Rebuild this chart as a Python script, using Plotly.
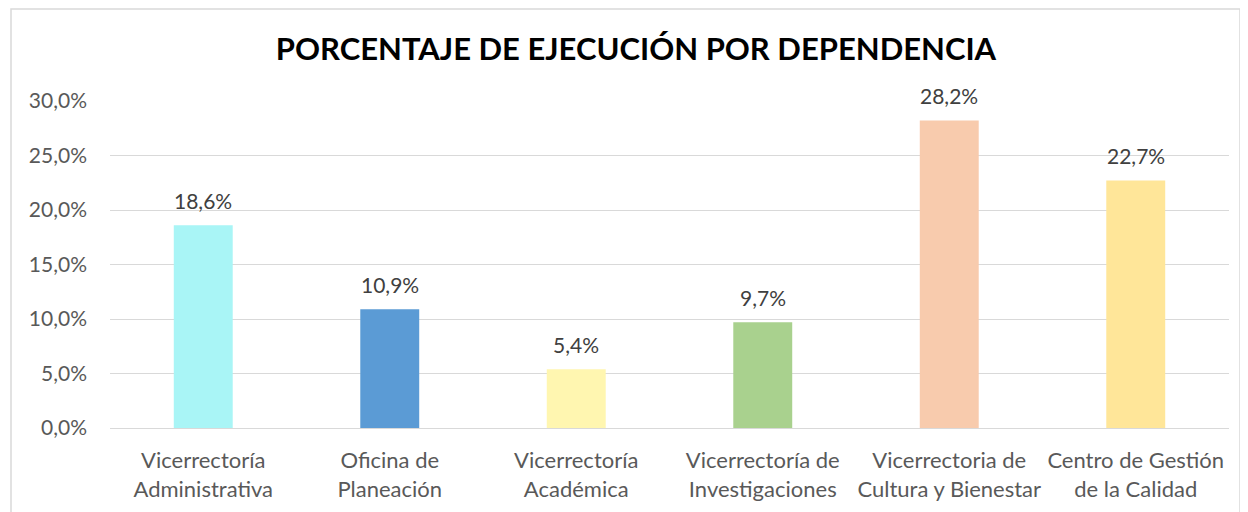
import plotly.graph_objects as go

categories = [
    "Vicerrectoría<br>Administrativa",
    "Oficina de<br>Planeación",
    "Vicerrectoría<br>Académica",
    "Vicerrectoría de<br>Investigaciones",
    "Vicerrectoria de<br>Cultura y Bienestar",
    "Centro de Gestión<br>de la Calidad",
]
values = [0.186, 0.109, 0.054, 0.097, 0.282, 0.227]
value_labels = ["18,6%", "10,9%", "5,4%", "9,7%", "28,2%", "22,7%"]
colors = ["#A9F5F6", "#5B9BD5", "#FFF6B0", "#A9D18E", "#F8CBAD", "#FFE699"]
tick_vals = [0, 0.05, 0.10, 0.15, 0.20, 0.25, 0.30]

FONT = "Lato"
# page has an 8px body margin; figure sized to fit in the window
OFF = 8
W, H = 1248 - OFF, 512 - OFF
L, T = 110 - OFF, 101 - OFF
R = W - (1229 - OFF)
B = H - (428 - OFF)
pw = W - L - R
ph = H - T - B


def px_x(x):
    return (x - OFF - L) / pw


def px_y(y):
    return (ph - (y - OFF - T)) / ph


fig = go.Figure(
    go.Bar(
        x=categories,
        y=values,
        marker=dict(color=colors, line=dict(width=0)),
        width=0.316,
        hoverinfo="x+y",
    )
)

for c, v, lab in zip(categories, values, value_labels):
    fig.add_annotation(
        x=c,
        y=v,
        text=lab,
        showarrow=False,
        yanchor="middle",
        yshift=25,
        font=dict(family=FONT, size=21, color="#404040"),
    )

fig.update_layout(
    width=W,
    height=H,
    margin=dict(l=L, r=R, t=T, b=B, autoexpand=False),
    separators=",.",
    paper_bgcolor="white",
    plot_bgcolor="white",
    showlegend=False,
    title=dict(
        text="<b>PORCENTAJE DE EJECUCIÓN POR DEPENDENCIA</b>",
        x=(636 - OFF) / W,
        xanchor="center",
        y=1 - (49 - OFF) / H,
        yanchor="middle",
        font=dict(family=FONT, size=31, color="#000000"),
    ),
    xaxis=dict(
        automargin=False,
        showgrid=False,
        showline=False,
        ticks="",
        ticklabelstandoff=17,
        tickfont=dict(family=FONT, size=22, color="#595959"),
    ),
    yaxis=dict(
        automargin=False,
        range=[0, 0.30],
        tickvals=tick_vals,
        tickformat=".1%",
        showgrid=True,
        gridcolor="#D9D9D9",
        gridwidth=1.3,
        zeroline=True,
        zerolinecolor="#D9D9D9",
        zerolinewidth=1.3,
        showline=False,
        ticks="",
        ticklabelstandoff=22,
        tickfont=dict(family=FONT, size=21, color="#595959"),
    ),
    shapes=[
        dict(
            type="rect",
            xref="paper",
            yref="paper",
            x0=px_x(11),
            x1=px_x(1240),
            y0=px_y(530),
            y1=px_y(OFF + 1),
            line=dict(color="#D9D9D9", width=1.5),
            fillcolor="rgba(0,0,0,0)",
            layer="below",
        )
    ],
)

fig.write_html("out.html")
